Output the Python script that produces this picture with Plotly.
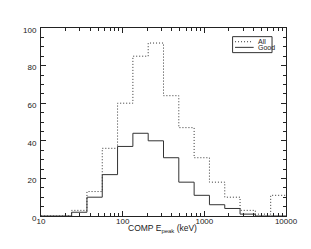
import numpy as np
import plotly.graph_objects as go

# bin edges (keV), 16 log bins from 10 to 10000
edges = [10 ** (1 + 0.1875 * k) for k in range(17)]
all_counts = [0, 0, 3, 13, 36, 60, 85, 92, 64, 47, 31, 18, 10, 3, 1, 11]
good_counts = [0, 0, 2, 10, 22, 37, 44, 40, 31, 18, 11, 6, 4, 1, 0, 0]
series_names = ["All", "Good"]
x_ticks = [10, 100, 1000, 10000]
y_ticks = [0, 20, 40, 60, 80, 100]

line_col = "#333333"
txt_col = "#222222"
DOT = "1px,2px"
fig = go.Figure()
fig.add_trace(go.Scatter(x=edges, y=all_counts + [all_counts[-1]], mode="lines",
                         line=dict(shape="hv", color=line_col, width=1, dash=DOT),
                         name=series_names[0], showlegend=False))
fig.add_trace(go.Scatter(x=edges, y=good_counts + [good_counts[-1]], mode="lines",
                         line=dict(shape="hv", color=line_col, width=1),
                         name=series_names[1], showlegend=False))

axis_common = dict(showgrid=False, zeroline=False, showline=True, linecolor=txt_col,
                   linewidth=1, mirror="allticks", ticks="inside", ticklen=5,
                   tickcolor=txt_col, tickfont=dict(size=8, color=txt_col))

fig.update_xaxes(type="log", range=[1, 4], tickvals=x_ticks,
                 ticktext=[str(v) for v in x_ticks], ticklabelstandoff=-3,
                 minor=dict(ticks="inside", ticklen=3, tickcolor=txt_col,
                            tickvals=[v * d for d in [10, 100, 1000] for v in range(2, 10)]),
                 **axis_common)
fig.update_yaxes(range=[0, 100], tickvals=y_ticks, ticklabelshift=2, ticklabelstandoff=2,
                 minor=dict(ticks="inside", ticklen=3, tickcolor=txt_col, dtick=5),
                 **axis_common)

# x axis title as text below the axis
fig.add_annotation(xref="paper", yref="paper", x=0.494, y=-0.069, showarrow=False,
                   text="COMP E<sub>peak</sub> (keV)", xanchor="center", yanchor="middle",
                   font=dict(size=8.5, color=txt_col))

# manual legend (paper coords)
lx0, lx1, ly0, ly1 = 0.782, 0.943, 0.869, 0.954
fig.add_shape(type="rect", xref="paper", yref="paper", x0=lx0, x1=lx1, y0=ly0, y1=ly1,
              line=dict(color="#333333", width=1), fillcolor="white")
rows = [0.927, 0.897]
fig.add_shape(type="line", xref="paper", yref="paper", x0=0.792, x1=0.862, y0=rows[0], y1=rows[0],
              line=dict(color=line_col, width=1, dash=DOT))
fig.add_shape(type="line", xref="paper", yref="paper", x0=0.792, x1=0.868, y0=rows[1], y1=rows[1],
              line=dict(color=line_col, width=1))
for nm, yy in zip(series_names, rows):
    fig.add_annotation(xref="paper", yref="paper", x=0.878, y=yy, text=nm, showarrow=False,
                       xanchor="left", yanchor="middle", font=dict(size=7, color=txt_col))

# body has an 8px default margin, compensate
fig.update_layout(width=311, height=249, margin=dict(l=33, r=33, t=20, b=41),
                  paper_bgcolor="white", plot_bgcolor="white",
                  font=dict(family="Liberation Sans, Arial, sans-serif", size=9, color=txt_col),
                  showlegend=False)
fig.write_html("out.html")
